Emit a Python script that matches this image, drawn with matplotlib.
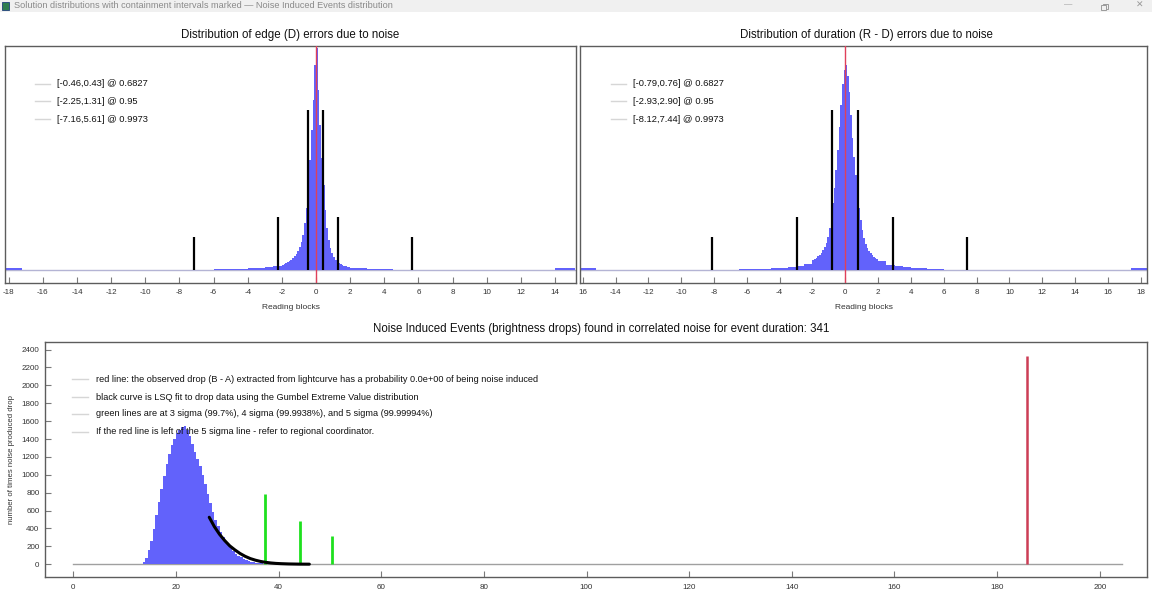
import numpy as np
import matplotlib
matplotlib.use("Agg")
import matplotlib.pyplot as plt
from matplotlib.patches import Rectangle

# ---------------- data ----------------
# edge (D) error histogram (counts in arbitrary units)
edge_bin_edges = [-7.0, -6.5, -6.0, -5.5, -5.0, -4.5, -4.0, -3.5, -3.0, -2.5,
                  -2.0, -1.9, -1.8, -1.7, -1.6, -1.5, -1.4, -1.3, -1.2, -1.1,
                  -1.0, -0.9, -0.8, -0.7, -0.6, -0.5, -0.4, -0.3, -0.2, -0.1,
                  0.0, 0.1, 0.2, 0.3, 0.4, 0.5, 0.6, 0.7, 0.8, 0.9,
                  1.0, 1.1, 1.2, 1.3, 1.4, 1.5, 1.6, 1.7, 1.8, 1.9,
                  2.0, 2.5, 3.0, 3.5, 4.0, 4.5, 5.0]
edge_counts = [0.4, 0.5, 0.7, 0.9, 1.1, 1.4, 1.8, 2.4, 3.2, 4.5,
               5.5, 6.2, 7.0, 8.0, 9.2, 10.5, 12, 14, 16, 19,
               23, 28, 35, 47, 62, 85, 110, 140, 170, 205,
               222, 180, 145, 112, 85, 60, 42, 30, 22, 17,
               13, 10.5, 8.5, 7, 6, 5.2, 4.5, 4.0, 3.5, 3.0,
               2.5, 2.0, 1.5, 1.1, 0.8, 0.5]
edge_overflow_low = [-18.2, -17.2]
edge_overflow_high = [14.0, 15.2]
edge_intervals = [(-0.46, 0.43), (-2.25, 1.31), (-7.16, 5.61)]

# duration (R - D) error histogram
dur_bin_edges = [-7.0, -6.5, -6.0, -5.5, -5.0, -4.5, -4.0, -3.5, -3.0, -2.5,
                 -2.0, -1.9, -1.8, -1.7, -1.6, -1.5, -1.4, -1.3, -1.2, -1.1,
                 -1.0, -0.9, -0.8, -0.7, -0.6, -0.5, -0.4, -0.3, -0.2, -0.1,
                 0.0, 0.1, 0.2, 0.3, 0.4, 0.5, 0.6, 0.7, 0.8, 0.9,
                 1.0, 1.1, 1.2, 1.3, 1.4, 1.5, 1.6, 1.7, 1.8, 1.9,
                 2.0, 2.5, 3.0, 3.5, 4.0, 4.5, 5.0, 5.5, 6.0, 6.5]
dur_counts = [0.5, 0.6, 0.8, 1.0, 1.3, 1.7, 2.3, 3.0, 4.2, 6.5,
              10, 11, 12.5, 14, 15.5, 17.5, 20, 23, 27, 33,
              42, 53, 67, 82, 100, 120, 143, 165, 186, 200,
              205, 194, 178, 155, 132, 113, 95, 78, 62, 50,
              40, 32, 26, 22, 19, 17, 15, 13.5, 12, 11,
              9, 5.5, 4.2, 3.0, 2.2, 1.6, 1.2, 0.8, 0.5]
dur_overflow_low = [-16.2, -15.2]
dur_overflow_high = [17.4, 18.4]
dur_intervals = [(-0.79, 0.76), (-2.93, 2.90), (-8.12, 7.44)]

confidence_levels = ["0.6827", "0.95", "0.9973"]
interval_marker_heights = [160, 53, 33]

edge_ticks = list(range(-18, 15, 2))
dur_ticks = list(range(-16, 19, 2))

# noise induced drops histogram
drop_bin_edges = [13.0, 13.5, 14.0, 14.5, 15.0, 15.5, 16.0, 16.5, 17.0, 17.5,
                  18.0, 18.5, 19.0, 19.5, 20.0, 20.5, 21.0, 21.5, 22.0, 22.5,
                  23.0, 23.5, 24.0, 24.5, 25.0, 25.5, 26.0, 26.5, 27.0, 27.5,
                  28.0, 28.5, 29.0, 29.5, 30.0, 30.5, 31.0, 31.5, 32.0, 32.5,
                  33.0, 33.5, 34.0, 34.5, 35.0, 35.5, 36.0, 36.5, 37.0, 37.5,
                  38.0, 38.5, 39.0, 39.5, 40.0]
drop_counts = [5, 25, 75, 160, 265, 395, 545, 695, 840, 985,
               1120, 1235, 1330, 1405, 1465, 1505, 1535, 1545, 1500, 1430,
               1345, 1260, 1180, 1095, 1000, 895, 785, 680, 585, 500,
               425, 360, 305, 258, 215, 178, 145, 118, 95, 76,
               61, 48, 38, 30, 23, 17, 13, 10, 7, 5,
               4, 3, 2, 2]
drop_range = [0.0, 204.4]

gumbel_x = [26.5, 27.5, 28.5, 29.5, 30.5, 31.5, 32.5, 33.5, 34.5, 35.5,
            36.5, 37.5, 38.5, 39.5, 40.5, 42.0, 44.0, 46.0]
gumbel_y = [525, 420, 335, 265, 205, 160, 120, 88, 63, 45,
            31, 21, 14, 9, 6, 3, 1, 0.4]

sigma_x = [37.3, 44.2, 50.4]
sigma_h = [790, 480, 315]
observed_drop_x = 185.8
observed_drop_h = 2330
observed_probability = 0.0
event_duration = 341

drop_xticks = list(range(0, 201, 20))
drop_yticks = list(range(0, 2401, 200))

# ---------------- style ----------------
W, H = 1152, 598
HIST = "#6262fb"
FONT = "Liberation Sans"
plt.rcParams["font.family"] = [FONT, "DejaVu Sans"]

fig = plt.figure(figsize=(W / 100, H / 100), dpi=100)
fig.patch.set_facecolor("white")


def axes_px(x0, y0, x1, y1):
    return fig.add_axes([x0 / W, 1 - y1 / H, (x1 - x0) / W, (y1 - y0) / H])


def px_to_ax(ax, x, y):
    bb = ax.get_position()
    return ((x / W - bb.x0) / bb.width, ((1 - y / H) - bb.y0) / bb.height)


def fig_rect(x, y, w, h, **kw):
    fig.add_artist(Rectangle((x / W, 1 - (y + h) / H), w / W, h / H,
                             transform=fig.transFigure, **kw))


def style_frame(ax):
    for s in ax.spines.values():
        s.set_color("#5c5c5c")
        s.set_linewidth(1.0)
    ax.set_facecolor("white")


# window title bar
fig_rect(0, 0, W, 12, facecolor="#f0f0f0", edgecolor="none", zorder=0)
fig_rect(2, 2, 7, 8, facecolor="#2e7d4f", edgecolor="#20407a", lw=0.6, zorder=1)
fig.text(14 / W, 1 - 6 / H,
         "Solution distributions with containment intervals marked \u2014 Noise Induced Events distribution",
         ha="left", va="center", fontsize=6.6, color="#8a8a8a")
fig.text(1068 / W, 1 - 5 / H, "\u2014", ha="center", va="center", fontsize=6, color="#999999")
# restore-window glyph (two overlapping squares)
fig_rect(1102.5, 3.5, 5, 5, facecolor="none", edgecolor="#9a9a9a", lw=0.7, zorder=2)
fig_rect(1101, 5, 5, 5, facecolor="#f0f0f0", edgecolor="#9a9a9a", lw=0.7, zorder=3)
fig.text(1140 / W, 1 - 5 / H, "\u2715", ha="center", va="center", fontsize=6.5, color="#999999",
         family=["DejaVu Sans"])


def top_panel(box, edges, counts, ovf_lo, ovf_hi, intervals, xlim, ticks, ticklabels,
              title, title_x, legend_x):
    ax = axes_px(*box)
    style_frame(ax)
    ax.axhline(0, color="#b4b4d4", lw=1.0, zorder=1)
    ax.stairs(counts, edges, fill=True, color=HIST, lw=0, zorder=2)
    ax.stairs([1.6], ovf_lo, fill=True, color=HIST, lw=0, zorder=2)
    ax.stairs([1.6], ovf_hi, fill=True, color=HIST, lw=0, zorder=2)
    for (lo, hi), h in zip(intervals, interval_marker_heights):
        ax.vlines([lo, hi], 0, h, color="black", lw=1.6, zorder=3)
    ax.axvline(0, color="#e0405a", lw=1.0, zorder=4)
    ax.set_xlim(*xlim)
    ax.set_ylim(-13, 224)
    ax.set_yticks([])
    ax.set_xticks(ticks)
    ax.set_xticklabels(ticklabels)
    ax.tick_params(axis="x", direction="in", length=4, width=0.8, color="#7a7a7a",
                   labelsize=5.8, labelcolor="#333333", pad=4)
    ax.set_xlabel("Reading blocks", fontsize=6, color="#333333", labelpad=6)
    fig.text(title_x / W, 1 - 35 / H, title, ha="center", va="center",
             fontsize=8.3, color="#111111")
    for (lo, hi), p, ypx in zip(intervals, confidence_levels, [84, 101, 119]):
        hx0, hy = px_to_ax(ax, legend_x - 22, ypx)
        hx1, _ = px_to_ax(ax, legend_x - 7, ypx)
        ax.plot([hx0, hx1], [hy, hy], transform=ax.transAxes, color="#d6d6d6", lw=1.0)
        tx, ty = px_to_ax(ax, legend_x, ypx)
        ax.text(tx, ty, f"[{lo:.2f},{hi:.2f}] @ {p}", transform=ax.transAxes,
                ha="left", va="center", fontsize=6.75, color="#111111")
    return ax


top_panel((5, 46, 576, 283), edge_bin_edges, edge_counts, edge_overflow_low,
          edge_overflow_high, edge_intervals, (-18.22, 15.23), edge_ticks,
          [str(t) for t in edge_ticks],
          "Distribution of edge (D) errors due to noise", 290, 57)

dur_labels = [str(t) for t in dur_ticks]
dur_labels[0] = "16"
top_panel((580, 46, 1147, 283), dur_bin_edges, dur_counts, dur_overflow_low,
          dur_overflow_high, dur_intervals, (-16.17, 18.39), dur_ticks, dur_labels,
          "Distribution of duration (R - D) errors due to noise", 866, 633)

# bottom panel
ax = axes_px(45, 342, 1147, 577)
style_frame(ax)
ax.plot(drop_range, [0, 0], color="#a0a0a0", lw=1.0, zorder=1)
ax.stairs(drop_counts, drop_bin_edges, fill=True, color=HIST, lw=0, zorder=2)
ax.plot(gumbel_x, gumbel_y, color="black", lw=2.2, zorder=4, solid_capstyle="round")
ax.vlines(sigma_x, 0, sigma_h, color="#1ee01e", lw=2.0, zorder=3)
ax.vlines([observed_drop_x], 0, [observed_drop_h], color="#cc3d55", lw=1.8, zorder=3)
ax.set_xlim(-5.5, 209.2)
ax.set_ylim(-143, 2485)
ax.set_xticks(drop_xticks)
ax.set_yticks(drop_yticks)
ax.tick_params(axis="both", direction="in", length=4, width=0.8, color="#7a7a7a",
               labelsize=5.8, labelcolor="#333333")
ax.tick_params(axis="x", pad=5)
ax.tick_params(axis="y", pad=4)
ax.set_ylabel("number of times noise produced drop", fontsize=5.6, color="#333333",
              labelpad=5)
fig.text(601 / W, 1 - 329 / H,
         f"Noise Induced Events (brightness drops) found in correlated noise for event duration: {event_duration}",
         ha="center", va="center", fontsize=8.3, color="#111111")
legend_lines = [
    f"red line: the observed drop (B - A) extracted from lightcurve has a probability {observed_probability:.1e} of being noise induced",
    "black curve is LSQ fit to drop data using the Gumbel Extreme Value distribution",
    "green lines are at 3 sigma (99.7%), 4 sigma (99.9938%), and 5 sigma (99.99994%)",
    "If the red line is left of the 5 sigma line - refer to regional coordinator.",
]
for txt, ypx in zip(legend_lines, [379, 397, 414, 432]):
    hx0, hy = px_to_ax(ax, 72, ypx)
    hx1, _ = px_to_ax(ax, 88, ypx)
    ax.plot([hx0, hx1], [hy, hy], transform=ax.transAxes, color="#d6d6d6", lw=1.0)
    tx, ty = px_to_ax(ax, 96, ypx)
    ax.text(tx, ty, txt, transform=ax.transAxes, ha="left", va="center",
            fontsize=6.55, color="#111111")

fig.savefig("out.png", dpi=100, facecolor="white")
